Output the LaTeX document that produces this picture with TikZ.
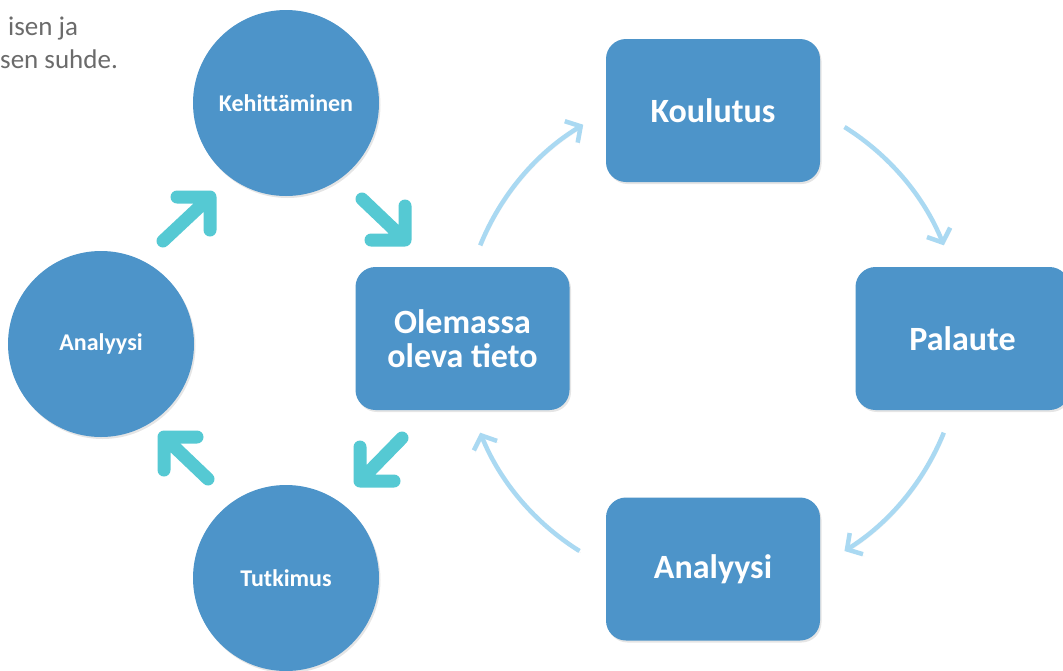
\documentclass[tikz,border=0pt]{standalone}
\usepackage{fontspec}
\setmainfont{Carlito}
\usetikzlibrary{arrows.meta,shadows,calc}
\definecolor{nodeblue}{HTML}{4D94C9}
\definecolor{arrowteal}{HTML}{55C9D3}
\definecolor{cyclearrow}{HTML}{AAD9F2}
\definecolor{capgrey}{HTML}{6B6B6B}
\begin{document}
\begin{tikzpicture}[x=1pt,y=-1pt,
  shade/.style={drop shadow={shadow xshift=1.5pt, shadow yshift=-2pt, opacity=0.1, fill=black}},
  circ/.style={circle, fill=nodeblue, minimum size=186pt, inner sep=0pt, text=white,
    font=\bfseries\fontsize{24}{28}\selectfont, shade},
  box/.style={rectangle, rounded corners=20pt, fill=nodeblue, minimum width=214pt,
    minimum height=143pt, inner sep=0pt, text=white, align=center,
    font=\bfseries\fontsize{34}{34}\selectfont, shade},
  tealarrow/.style={draw=arrowteal, line width=13pt, line cap=round, line join=round,
    preaction={draw=black, draw opacity=0.08, transform canvas={xshift=1.5pt, yshift=-2pt}}},
  cyclearr/.style={draw=cyclearrow, line width=4.5pt,
    -{Straight Barb[length=11pt,width=25pt]},
    preaction={draw=black, draw opacity=0.05, transform canvas={xshift=1.5pt, yshift=-2pt}}},
  caption/.style={text=capgrey, font=\fontsize{27}{33}\selectfont, inner sep=0pt, anchor=base west}
]
\useasboundingbox (0,0) rectangle (1063,670);
\fill[white] (0,0) rectangle (1063,670);

% caption fragment
\node[caption] (cap1) at (8,35) {isen ja};
\node[caption] (cap2) at (0,68) {sen suhde.};

% left cycle
\node[circ] (kehit) at (286,103) {Kehittäminen};
\node[circ] (anal1) at (101,344) {Analyysi};
\node[circ] (tutk) at (286,578) {Tutkimus};

% boxes
\node[box] (olem) at (462.5,338.5) {Olemassa\\oleva tieto};
\node[box] (koul) at (713,110.5) {Koulutus};
\node[box] (pal) at (962.5,338.5) {Palaute};
\node[box] (anal2) at (713,569) {Analyysi};

% teal arrows (left cycle)
\coordinate (aT) at (163,241); \coordinate (aH) at (210,197);
\coordinate (aA) at (177,197); \coordinate (aB) at (210,230);
\coordinate (bT) at (362,199); \coordinate (bH) at (405,240);
\coordinate (bA) at (405,206); \coordinate (bB) at (371,240);
\coordinate (cT) at (402,438); \coordinate (cH) at (360,481);
\coordinate (cA) at (360,447); \coordinate (cB) at (394,481);
\coordinate (dT) at (208,479); \coordinate (dH) at (164,437);
\coordinate (dA) at (197,437); \coordinate (dB) at (164,470);
\draw[tealarrow] (aT) -- (aH) (aA) -- (aH) -- (aB);
\draw[tealarrow] (bT) -- (bH) (bA) -- (bH) -- (bB);
\draw[tealarrow] (cT) -- (cH) (cA) -- (cH) -- (cB);
\draw[tealarrow] (dT) -- (dH) (dA) -- (dH) -- (dB);

% light blue cycle arrows
\coordinate (ctr) at (712,339);
\coordinate (s1) at ($(ctr)+(-158:250)$);
\coordinate (s2) at ($(ctr)+(-58:250)$);
\coordinate (s3) at ($(ctr)+(22:250)$);
\coordinate (s4) at ($(ctr)+(122:250)$);
\draw[cyclearr] (s1) arc[start angle=-158, end angle=-121, radius=250];
\draw[cyclearr] (s2) arc[start angle=-58, end angle=-22, radius=250];
\draw[cyclearr] (s3) arc[start angle=22, end angle=58, radius=250];
\draw[cyclearr] (s4) arc[start angle=122, end angle=158, radius=250];
\end{tikzpicture}
\end{document}
